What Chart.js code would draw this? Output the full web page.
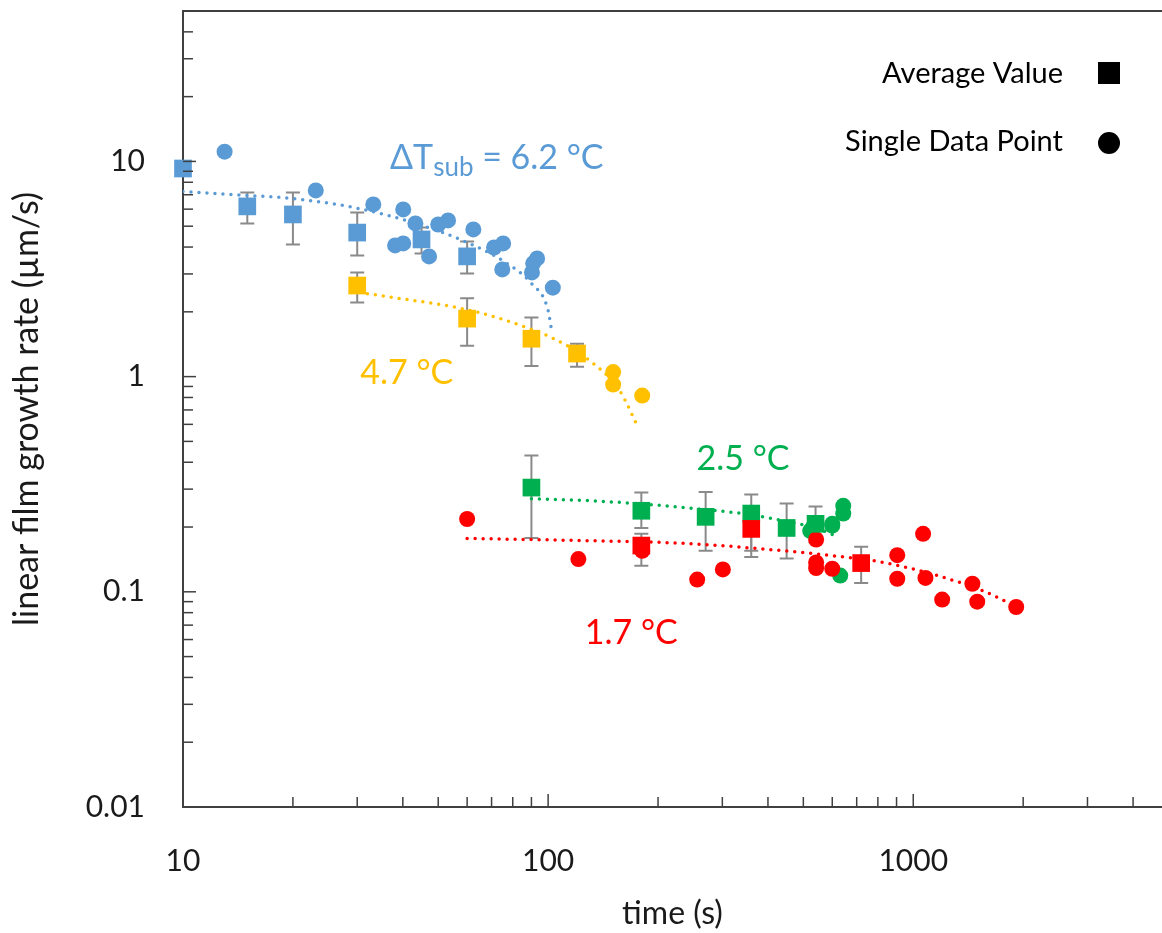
<!DOCTYPE html>
<html>
<head>
<meta charset="utf-8">
<title>linear film growth rate</title>
<script src="https://cdn.jsdelivr.net/npm/chart.js@4/dist/chart.umd.min.js"></script>
<style>
    html, body { margin: 0; padding: 0; background: #fff; overflow: hidden; }
    #wrap { width: 1162px; height: 933px; }
</style>
</head>
<body>
<div id="wrap"><canvas id="growthChart" width="1162" height="933"></canvas></div>
<script>
// ---- data ----
// ΔT_sub = 6.2 °C
const avgTime62 = [10, 15, 20, 30, 45, 60];
const avgRate62 = [9.27, 6.18, 5.67, 4.67, 4.34, 3.62];
const errLo62 = [null, 5.15, 4.11, 3.65, 3.73, 3.01];
const errHi62 = [null, 7.17, 7.17, 5.79, 4.93, 4.25];
const ptTime62 = [13.0, 23.1, 33.2, 40.1, 43.3, 38.1, 40.1, 47.2, 50.0, 53.2, 62.4, 71.1, 75.3, 74.9, 90.3, 91.0, 93.3, 103];
const ptRate62 = [11.1, 7.33, 6.31, 5.98, 5.15, 4.07, 4.16, 3.62, 5.09, 5.32, 4.83, 3.98, 4.16, 3.15, 3.05, 3.36, 3.54, 2.59];
const fitTime62 = [10, 15, 20, 30, 45, 60, 75, 90, 100, 102];
const fitRate62 = [7.25, 6.95, 6.72, 6.06, 5.05, 4.2, 3.46, 2.71, 2.03, 1.67];

// 4.7 °C
const avgTime47 = [30, 60, 90, 120];
const avgRate47 = [2.65, 1.86, 1.50, 1.28];
const errLo47 = [2.21, 1.39, 1.12, 1.11];
const errHi47 = [3.05, 2.31, 1.88, 1.42];
const ptTime47 = [150.7, 150.7, 181];
const ptRate47 = [1.05, 0.918, 0.816];
const fitTime47 = [32, 41, 51, 65, 80, 101, 128, 157, 177];
const fitRate47 = [2.43, 2.28, 2.16, 1.98, 1.78, 1.53, 1.21, 0.86, 0.573];

// 2.5 °C
const avgTime25 = [90, 180, 270, 360, 450, 540];
const avgRate25 = [0.305, 0.238, 0.223, 0.231, 0.198, 0.207];
const errLo25 = [0.178, 0.198, 0.155, 0.155, 0.143, 0.17];
const errHi25 = [0.43, 0.289, 0.291, 0.283, 0.257, 0.249];
const ptTime25 = [522, 530, 600, 600, 631, 643, 643];
const ptRate25 = [0.192, 0.198, 0.207, 0.203, 0.119, 0.231, 0.251];
const fitTime25 = [90, 130, 175, 291, 360, 440, 540, 623];
const fitRate25 = [0.271, 0.265, 0.257, 0.238, 0.228, 0.214, 0.198, 0.180];

// 1.7 °C
const avgTime17 = [180, 360, 720];
const avgRate17 = [0.164, 0.196, 0.136];
const errLo17 = [0.132, 0.145, 0.110];
const errHi17 = [0.186, 0.245, 0.162];
const ptTime17 = [60, 121, 181, 256, 301, 542, 542, 542, 600, 904, 904, 1064, 1080, 1200, 1452, 1497, 1914];
const ptRate17 = [0.218, 0.142, 0.155, 0.114, 0.127, 0.175, 0.137, 0.129, 0.128, 0.148, 0.115, 0.186, 0.116, 0.092, 0.109, 0.090, 0.085];
const fitTime17 = [60, 124, 234, 357, 673, 827, 1163, 1553, 1845];
const fitRate17 = [0.177, 0.173, 0.168, 0.160, 0.144, 0.137, 0.119, 0.101, 0.088];

// axes
const xTickValues = [10, 100, 1000];
const xTickLabels = ['10', '100', '1000'];
const yTickValues = [0.01, 0.1, 1, 10];
const yTickLabels = ['0.01', '0.1', '1', '10'];

// series colours
const BLUE = '#5b9bd5';
const YELLOW = '#ffc000';
const GREEN = '#00b050';
const RED = '#ff0000';
const ERR_GREY = '#8a8a8a';
const FONT = 'Lato, "Open Sans", sans-serif';

function toPoints(xs, ys) {
    return xs.map(function(x, i) { return { x: x, y: ys[i] }; });
}

function avgSet(xs, ys, lo, hi, color, order) {
    return {
        label: 'avg', data: toPoints(xs, ys), errLo: lo, errHi: hi,
        showLine: false, pointStyle: 'rect', pointRadius: 12.5, pointHoverRadius: 12.5,
        backgroundColor: color, borderColor: color, borderWidth: 0, order: order, clip: false
    };
}

function ptSet(xs, ys, color, order) {
    return {
        label: 'pt', data: toPoints(xs, ys), showLine: false,
        pointStyle: 'circle', pointRadius: 8, pointHoverRadius: 8,
        backgroundColor: color, borderColor: color, borderWidth: 0, order: order, clip: false
    };
}

function fitSet(xs, ys, color) {
    return {
        label: 'fit', data: toPoints(xs, ys), showLine: true, pointRadius: 0,
        borderColor: color, borderWidth: 3.5, borderDash: [0, 8], borderCapStyle: 'round',
        cubicInterpolationMode: 'monotone', fill: false, order: 10
    };
}

// error bars, drawn under the markers
const errorBarPlugin = {
    id: 'errorBars',
    beforeDatasetsDraw: function(chart) {
        const ctx = chart.ctx;
        const xs = chart.scales.x, ys = chart.scales.y;
        ctx.save();
        ctx.strokeStyle = ERR_GREY;
        ctx.lineWidth = 2;
        chart.data.datasets.forEach(function(ds) {
            if (!ds.errLo) return;
            ds.data.forEach(function(p, i) {
                if (ds.errLo[i] == null) return;
                const px = xs.getPixelForValue(p.x);
                const yl = ys.getPixelForValue(ds.errLo[i]);
                const yh = ys.getPixelForValue(ds.errHi[i]);
                ctx.beginPath();
                ctx.moveTo(px, yl); ctx.lineTo(px, yh);
                ctx.moveTo(px - 7, yl); ctx.lineTo(px + 7, yl);
                ctx.moveTo(px - 7, yh); ctx.lineTo(px + 7, yh);
                ctx.stroke();
            });
        });
        ctx.restore();
    }
};

// inside tick marks, top frame line, annotations and the legend
const decorPlugin = {
    id: 'decor',
    afterDraw: function(chart) {
        const ctx = chart.ctx;
        const xs = chart.scales.x, ys = chart.scales.y;
        const area = chart.chartArea;
        ctx.save();

        // frame top
        ctx.strokeStyle = '#404040';
        ctx.lineWidth = 2;
        ctx.beginPath();
        ctx.moveTo(area.left, area.top);
        ctx.lineTo(area.right, area.top);
        ctx.stroke();

        // tick marks pointing into the plot
        ctx.lineWidth = 1.5;
        for (let e = -2; e <= 1; e++) {
            for (let m = 1; m <= 9; m++) {
                const v = m * Math.pow(10, e);
                if (v > ys.max) break;
                const py = ys.getPixelForValue(v);
                ctx.beginPath();
                ctx.moveTo(area.left, py);
                ctx.lineTo(area.left + (m === 1 ? 13 : 10), py);
                ctx.stroke();
            }
        }
        for (let e = 1; e <= 3; e++) {
            for (let m = 1; m <= 9; m++) {
                const v = m * Math.pow(10, e);
                if (v > xs.max) break;
                const px = xs.getPixelForValue(v);
                ctx.beginPath();
                ctx.moveTo(px, area.bottom);
                ctx.lineTo(px, area.bottom - (m === 1 ? 13 : 10));
                ctx.stroke();
            }
        }

        // series annotations
        ctx.textBaseline = 'alphabetic';
        ctx.textAlign = 'left';
        let ax = xs.getPixelForValue(36.9), ay = ys.getPixelForValue(9.2);
        ctx.fillStyle = BLUE;
        ctx.font = '34px ' + FONT;
        ctx.fillText('ΔT', ax, ay);
        ax += ctx.measureText('ΔT').width;
        ctx.font = '26px ' + FONT;
        ctx.fillText('sub', ax, ay + 7);
        ax += ctx.measureText('sub').width;
        ctx.font = '34px ' + FONT;
        ctx.fillText(' = 6.2 °C', ax, ay);

        ctx.fillStyle = YELLOW;
        ctx.fillText('4.7 °C', xs.getPixelForValue(30.6), ys.getPixelForValue(0.92));
        ctx.fillStyle = GREEN;
        ctx.fillText('2.5 °C', xs.getPixelForValue(255), ys.getPixelForValue(0.37));
        ctx.fillStyle = RED;
        ctx.fillText('1.7 °C', xs.getPixelForValue(126), ys.getPixelForValue(0.057));

        // legend
        ctx.fillStyle = '#000';
        ctx.font = '29px ' + FONT;
        ctx.textAlign = 'right';
        ctx.fillText('Average Value', 1063, 83);
        ctx.fillText('Single Data Point', 1063, 151);
        ctx.fillRect(1098, 62, 22, 22);
        ctx.beginPath();
        ctx.arc(1109, 143, 11, 0, Math.PI * 2);
        ctx.fill();

        ctx.restore();
    }
};

const ctx = document.getElementById('growthChart');
new Chart(ctx, {
    type: 'scatter',
    data: {
        datasets: [
            avgSet(avgTime17, avgRate17, errLo17, errHi17, RED, 0),
            avgSet(avgTime25, avgRate25, errLo25, errHi25, GREEN, 1),
            avgSet(avgTime47, avgRate47, errLo47, errHi47, YELLOW, 1),
            avgSet(avgTime62, avgRate62, errLo62, errHi62, BLUE, 1),
            ptSet(ptTime17, ptRate17, RED, 2),
            ptSet(ptTime25, ptRate25, GREEN, 3),
            ptSet(ptTime47, ptRate47, YELLOW, 3),
            ptSet(ptTime62, ptRate62, BLUE, 3),
            fitSet(fitTime62, fitRate62, BLUE),
            fitSet(fitTime47, fitRate47, YELLOW),
            fitSet(fitTime25, fitRate25, GREEN),
            fitSet(fitTime17, fitRate17, RED)
        ]
    },
    options: {
        responsive: false,
        animation: false,
        layout: { autoPadding: false, padding: { top: 11, right: 0, left: 0, bottom: 0 } },
        plugins: {
            legend: { display: false },
            tooltip: { enabled: false }
        },
        scales: {
            x: {
                type: 'logarithmic',
                min: 10,
                max: 4800,
                afterBuildTicks: function(s) { s.ticks = xTickValues.map(function(v) { return { value: v }; }); },
                afterFit: function(s) {
                    s.height = 126;
                    s.paddingLeft = 0; s.paddingRight = 0;
                },
                grid: { display: false, drawTicks: false },
                border: { display: true, color: '#404040', width: 2 },
                ticks: {
                    autoSkip: false, maxRotation: 0, padding: 36, color: '#1a1a1a',
                    font: { family: FONT, size: 30 },
                    callback: function(v) { return xTickLabels[xTickValues.indexOf(v)]; }
                },
                title: {
                    display: true, text: 'time (s)', color: '#1a1a1a',
                    font: { family: FONT, size: 32 }, padding: { top: 0, bottom: 0 }
                }
            },
            y: {
                type: 'logarithmic',
                min: 0.01,
                max: 50,
                afterBuildTicks: function(s) { s.ticks = yTickValues.map(function(v) { return { value: v }; }); },
                afterFit: function(s) {
                    s.width = 183;
                    s.paddingTop = 0; s.paddingBottom = 0;
                },
                grid: { display: false, drawTicks: false },
                border: { display: true, color: '#404040', width: 2 },
                ticks: {
                    autoSkip: false, padding: 38, color: '#1a1a1a',
                    font: { family: FONT, size: 30 },
                    callback: function(v) { return yTickLabels[yTickValues.indexOf(v)]; }
                },
                title: {
                    display: true, text: 'linear film growth rate (µm/s)', color: '#1a1a1a',
                    font: { family: FONT, size: 34 }, padding: { top: 7, bottom: 0 }
                }
            }
        }
    },
    plugins: [errorBarPlugin, decorPlugin]
});
</script>
</body>
</html>
